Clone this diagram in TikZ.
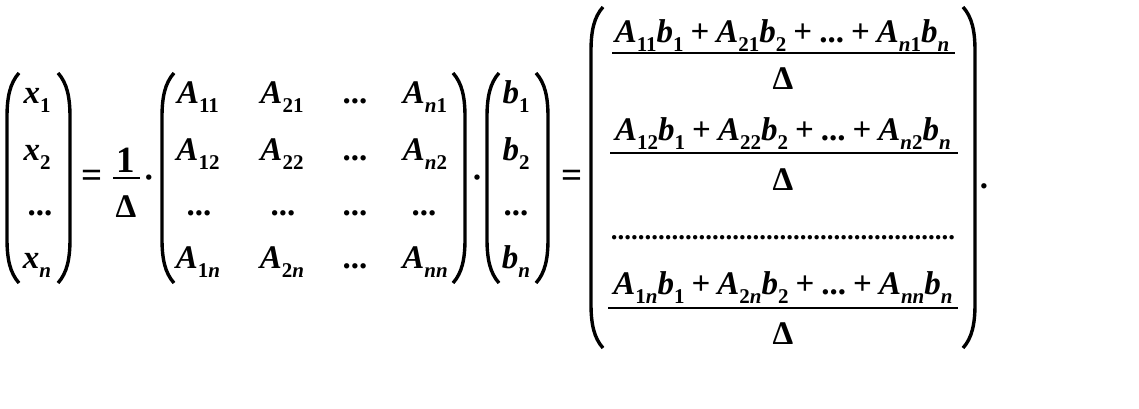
\documentclass[tikz,border=0pt]{standalone}
\usepackage{fontspec}
\setmainfont{Liberation Serif}
\newcommand\iv[1]{\textbf{\textit{#1}}}
\newcommand\sub[1]{\raisebox{-9pt}{\fontsize{21}{21}\selectfont\bfseries #1}}
\newcommand\subn{\sub{\textit{n}}}
\newcommand\plus{\kern7pt\textbf{+}\kern7pt}
\newcommand\LPar[3]{\draw[par] ({#1+12},#2) .. controls ({#1+3},{#2+10}) and (#1,{#2+24}) .. (#1,{#2+44}) -- (#1,{#3-44}) .. controls (#1,{#3-24}) and ({#1+3},{#3-10}) .. ({#1+12},#3);}
\newcommand\RPar[3]{\draw[par] ({#1-12},#2) .. controls ({#1-3},{#2+10}) and (#1,{#2+24}) .. (#1,{#2+44}) -- (#1,{#3-44}) .. controls (#1,{#3-24}) and ({#1-3},{#3-10}) .. ({#1-12},#3);}
\begin{document}
\begin{tikzpicture}[x=1pt,y=-1pt,
  txt/.style={inner sep=0pt, font=\fontsize{33}{33}\selectfont\bfseries},
  big/.style={inner sep=0pt, font=\fontsize{37}{37}\selectfont\bfseries},
  par/.style={line width=3.4pt},
  fbar/.style={line width=2.8pt}]
\fill[white] (0,0) rectangle (1139,409);
\path[use as bounding box] (0,0) rectangle (1139,409);
% x vector
\LPar{7}{73}{283}
\RPar{70}{73}{283}
\node[txt,anchor=base] (x1) at (37,104) {\iv{x}\sub{1}};
\node[txt,anchor=base] (x2) at (37,160) {\iv{x}\sub{2}};
\node[txt,anchor=base] (x3) at (40,215) {...};
\node[txt,anchor=base] (x4) at (37,268) {\iv{x}\subn};
% = 1/Delta .
\node[big] (eq1) at (92,179) {=};
\node[big,anchor=base] (one) at (126,172) {1};
\draw[fbar] (113,178) -- (140,178);
\node[txt,anchor=base] (del) at (126,217) {Δ};
\node[txt,anchor=base] (dot1) at (149,188) {·};
% matrix
\LPar{162}{73}{283}
\RPar{465}{73}{283}
\node[txt,anchor=base] (a11) at (198,104) {\iv{A}\sub{11}};
\node[txt,anchor=base] (a21) at (282,104) {\iv{A}\sub{21}};
\node[txt,anchor=base] (a31) at (355,104) {...};
\node[txt,anchor=base] (a41) at (425,104) {\iv{A}\sub{\textit{n}1}};
\node[txt,anchor=base] (a12) at (198,160) {\iv{A}\sub{12}};
\node[txt,anchor=base] (a22) at (282,160) {\iv{A}\sub{22}};
\node[txt,anchor=base] (a32) at (355,160) {...};
\node[txt,anchor=base] (a42) at (425,160) {\iv{A}\sub{\textit{n}2}};
\node[txt,anchor=base] (a13) at (199,215) {...};
\node[txt,anchor=base] (a23) at (283,215) {...};
\node[txt,anchor=base] (a33) at (355,215) {...};
\node[txt,anchor=base] (a43) at (424,215) {...};
\node[txt,anchor=base] (a14) at (198,268) {\iv{A}\sub{1\textit{n}}};
\node[txt,anchor=base] (a24) at (282,268) {\iv{A}\sub{2\textit{n}}};
\node[txt,anchor=base] (a34) at (355,268) {...};
\node[txt,anchor=base] (a44) at (425,268) {\iv{A}\sub{\textit{nn}}};
\node[txt,anchor=base] (dot2) at (477,188) {·};
% b vector
\LPar{487}{73}{283}
\RPar{548}{73}{283}
\node[txt,anchor=base] (b1) at (516,104) {\iv{b}\sub{1}};
\node[txt,anchor=base] (b2) at (516,160) {\iv{b}\sub{2}};
\node[txt,anchor=base] (b3) at (516,215) {...};
\node[txt,anchor=base] (b4) at (516,268) {\iv{b}\subn};
\node[big] (eq2) at (572,179) {=};
% result vector
\LPar{591}{7}{348}
\RPar{975}{7}{348}
\node[txt,anchor=base] (n1) at (782,43) {\iv{A}\sub{11}\iv{b}\sub{1}\plus\iv{A}\sub{21}\iv{b}\sub{2}\plus...\plus\iv{A}\sub{\textit{n}1}\iv{b}\subn};
\draw[fbar] (612,53) -- (955,53);
\node[txt,anchor=base] (d1) at (783,90) {Δ};
\node[txt,anchor=base] (n2) at (783,140) {\iv{A}\sub{12}\iv{b}\sub{1}\plus\iv{A}\sub{22}\iv{b}\sub{2}\plus...\plus\iv{A}\sub{\textit{n}2}\iv{b}\subn};
\draw[fbar] (610,153) -- (958,153);
\node[txt,anchor=base] (d2) at (783,190) {Δ};
\node[anchor=base,inner sep=0pt,font=\fontsize{27}{27}\selectfont\bfseries] (dd) at (783,239) {...................................................};
\node[txt,anchor=base] (n3) at (783,294) {\iv{A}\sub{1\textit{n}}\iv{b}\sub{1}\plus\iv{A}\sub{2\textit{n}}\iv{b}\sub{2}\plus...\plus\iv{A}\sub{\textit{nn}}\iv{b}\subn};
\draw[fbar] (608,308) -- (958,308);
\node[txt,anchor=base] (d3) at (783,344) {Δ};
\node[txt,anchor=base] (per) at (984,188) {.};
\end{tikzpicture}
\end{document}
